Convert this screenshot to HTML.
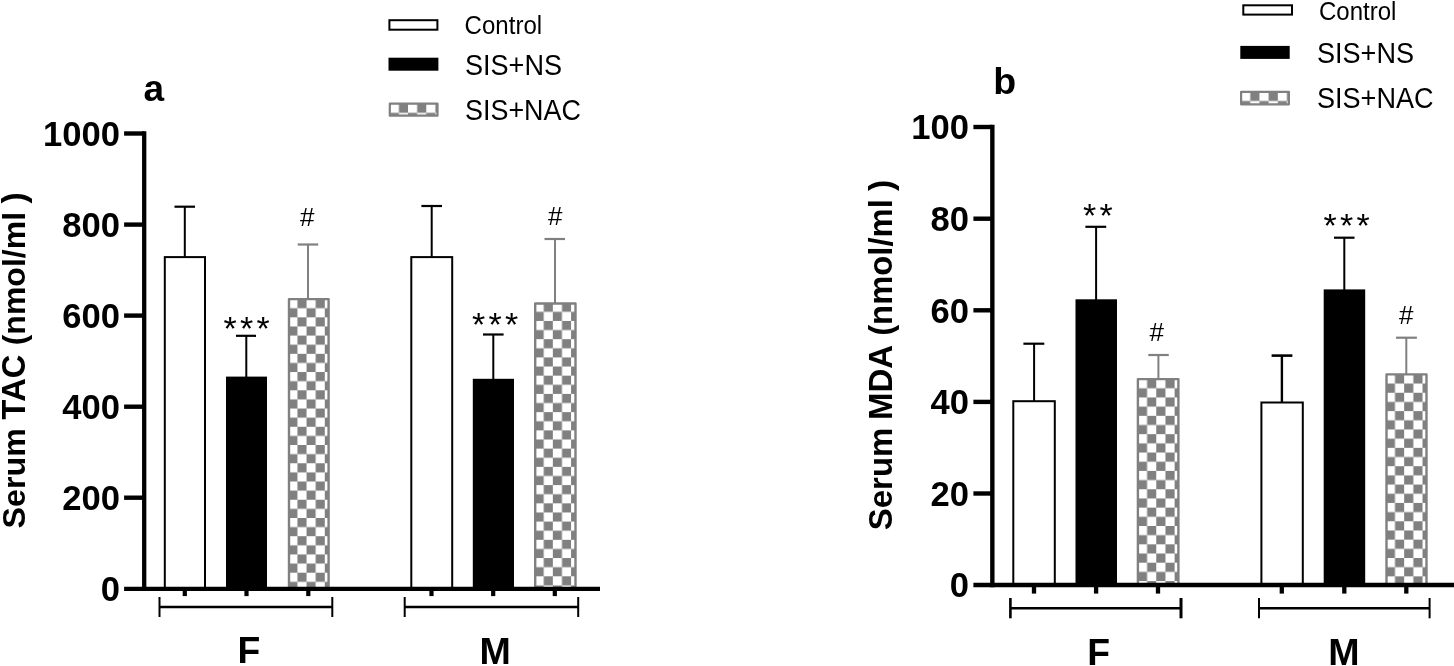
<!DOCTYPE html>
<html><head><meta charset="utf-8"><title>Serum TAC and MDA</title>
<style>html,body{margin:0;padding:0;background:#fff;}body{width:1454px;height:666px;overflow:hidden;}svg{display:block;will-change:transform;font-family:"Liberation Sans",sans-serif;fill:#000;}</style></head><body>
<svg width="1454" height="666" viewBox="0 0 1454 666">
<line x1="184.8" y1="206.7" x2="184.8" y2="257.1" stroke="#000" stroke-width="2.0"/>
<line x1="174.5" y1="206.7" x2="195" y2="206.7" stroke="#000" stroke-width="2.2"/>
<rect x="164.8" y="257.1" width="40.2" height="332.7" fill="#fff" stroke="#000" stroke-width="2.0"/>
<line x1="246.3" y1="335.8" x2="246.3" y2="377.6" stroke="#000" stroke-width="2.0"/>
<line x1="236" y1="335.8" x2="256" y2="335.8" stroke="#000" stroke-width="2.2"/>
<rect x="226" y="376.6" width="41" height="212.2" fill="#000"/>
<line x1="308" y1="244.5" x2="308" y2="298.9" stroke="#808080" stroke-width="2.0"/>
<line x1="297.7" y1="244.5" x2="318.2" y2="244.5" stroke="#808080" stroke-width="2.2"/>
<pattern id="p1" x="288.3" y="299.1" width="18.24" height="18.24" patternUnits="userSpaceOnUse"><rect width="18.24" height="18.24" fill="#fff"/><rect x="9.12" y="0" width="9.12" height="9.12" fill="#808080"/><rect x="0" y="9.12" width="9.12" height="9.12" fill="#808080"/></pattern>
<rect x="289" y="299.1" width="39.6" height="290.5" fill="url(#p1)" stroke="#808080" stroke-width="2.4" stroke-linejoin="round"/>
<line x1="431.7" y1="206" x2="431.7" y2="257.1" stroke="#000" stroke-width="2.0"/>
<line x1="421.4" y1="206" x2="442" y2="206" stroke="#000" stroke-width="2.2"/>
<rect x="411.3" y="257.1" width="40.9" height="332.7" fill="#fff" stroke="#000" stroke-width="2.0"/>
<line x1="493.3" y1="334.5" x2="493.3" y2="379.8" stroke="#000" stroke-width="2.0"/>
<line x1="483" y1="334.5" x2="503.6" y2="334.5" stroke="#000" stroke-width="2.2"/>
<rect x="472.8" y="378.8" width="41.2" height="210" fill="#000"/>
<line x1="555" y1="239" x2="555" y2="303.3" stroke="#808080" stroke-width="2.0"/>
<line x1="544.5" y1="239" x2="565" y2="239" stroke="#808080" stroke-width="2.2"/>
<pattern id="p2" x="534.6" y="302.7" width="18.24" height="18.24" patternUnits="userSpaceOnUse"><rect width="18.24" height="18.24" fill="#fff"/><rect x="9.12" y="0" width="9.12" height="9.12" fill="#808080"/><rect x="0" y="9.12" width="9.12" height="9.12" fill="#808080"/></pattern>
<rect x="535.2" y="303.5" width="40.3" height="286.1" fill="url(#p2)" stroke="#808080" stroke-width="2.4" stroke-linejoin="round"/>
<line x1="144.2" y1="131.3" x2="144.2" y2="590.95" stroke="#000" stroke-width="4.3"/>
<line x1="124.1" y1="588.8" x2="600" y2="588.8" stroke="#000" stroke-width="4.2"/>
<line x1="124.1" y1="133.5" x2="144.2" y2="133.5" stroke="#000" stroke-width="4.4"/>
<text x="119.9" y="145.8" font-size="34.6" font-weight="bold" text-anchor="end">1000</text>
<line x1="124.1" y1="224.6" x2="144.2" y2="224.6" stroke="#000" stroke-width="4.4"/>
<text x="119.9" y="236.9" font-size="34.6" font-weight="bold" text-anchor="end">800</text>
<line x1="124.1" y1="315.6" x2="144.2" y2="315.6" stroke="#000" stroke-width="4.4"/>
<text x="119.9" y="327.9" font-size="34.6" font-weight="bold" text-anchor="end">600</text>
<line x1="124.1" y1="406.7" x2="144.2" y2="406.7" stroke="#000" stroke-width="4.4"/>
<text x="119.9" y="419" font-size="34.6" font-weight="bold" text-anchor="end">400</text>
<line x1="124.1" y1="497.7" x2="144.2" y2="497.7" stroke="#000" stroke-width="4.4"/>
<text x="119.9" y="510" font-size="34.6" font-weight="bold" text-anchor="end">200</text>
<text x="119.9" y="601.1" font-size="34.6" font-weight="bold" text-anchor="end">0</text>
<line x1="184.8" y1="588.8" x2="184.8" y2="596.1" stroke="#000" stroke-width="4.2"/>
<line x1="246.5" y1="588.8" x2="246.5" y2="596.1" stroke="#000" stroke-width="4.2"/>
<line x1="308.3" y1="588.8" x2="308.3" y2="596.1" stroke="#000" stroke-width="4.2"/>
<line x1="431.5" y1="588.8" x2="431.5" y2="596.1" stroke="#000" stroke-width="4.2"/>
<line x1="493.2" y1="588.8" x2="493.2" y2="596.1" stroke="#000" stroke-width="4.2"/>
<line x1="554.8" y1="588.8" x2="554.8" y2="596.1" stroke="#000" stroke-width="4.2"/>
<line x1="159.5" y1="607" x2="332.3" y2="607" stroke="#000" stroke-width="2.3"/>
<line x1="159.5" y1="597" x2="159.5" y2="617" stroke="#000" stroke-width="2"/>
<line x1="332.3" y1="597" x2="332.3" y2="617" stroke="#000" stroke-width="2"/>
<line x1="404.7" y1="607" x2="578.2" y2="607" stroke="#000" stroke-width="2.3"/>
<line x1="404.7" y1="597" x2="404.7" y2="617" stroke="#000" stroke-width="2"/>
<line x1="578.2" y1="597" x2="578.2" y2="617" stroke="#000" stroke-width="2"/>
<text x="143.6" y="101" font-size="37" font-weight="bold" text-anchor="start">a</text>
<text x="249" y="663" font-size="37.3" font-weight="bold" text-anchor="middle">F</text>
<text x="495.2" y="664" font-size="37.6" font-weight="bold" text-anchor="middle">M</text>
<text x="223.5" y="340" font-size="34" text-anchor="start" letter-spacing="3.3">***</text>
<text x="472" y="336" font-size="34" text-anchor="start" letter-spacing="3.3">***</text>
<text x="300" y="226.2" font-size="26" text-anchor="start">#</text>
<text x="548" y="225.3" font-size="26" text-anchor="start">#</text>
<text transform="translate(25.2,528.4) rotate(-90)" font-size="32.2" font-weight="bold">Serum</text>
<text transform="translate(25.2,419.4) rotate(-90)" font-size="32.7" font-weight="bold">TAC</text>
<text transform="translate(25.2,345.3) rotate(-90)" font-size="32" font-weight="bold">(nmol/ml</text>
<text transform="translate(25.2,203.4) rotate(-90)" font-size="34" font-weight="bold">)</text>
<rect x="389.4" y="20.2" width="48" height="9.5" fill="#fff" stroke="#000" stroke-width="2.0"/>
<text transform="translate(464.6,33.9) scale(0.925,1)" font-size="26">Control</text>
<rect x="388.5" y="57.7" width="49.9" height="13" fill="#000"/>
<text transform="translate(465,74.9) scale(0.918,1)" font-size="29.5">SIS+NS</text>
<pattern id="p3" x="389.8" y="103.7" width="18.24" height="18.24" patternUnits="userSpaceOnUse"><rect width="18.24" height="18.24" fill="#fff"/><rect x="9.12" y="0" width="9.12" height="9.12" fill="#808080"/><rect x="0" y="9.12" width="9.12" height="9.12" fill="#808080"/></pattern>
<rect x="389.8" y="103.7" width="47.7" height="12" fill="url(#p3)" stroke="#808080" stroke-width="2.2" stroke-linejoin="round"/>
<text transform="translate(465,120.4) scale(0.913,1)" font-size="29.5">SIS+NAC</text>
<line x1="1034.1" y1="343.7" x2="1034.1" y2="401.2" stroke="#000" stroke-width="2.0"/>
<line x1="1023.4" y1="343.7" x2="1044.3" y2="343.7" stroke="#000" stroke-width="2.2"/>
<rect x="1013.3" y="401.2" width="41.5" height="184.8" fill="#fff" stroke="#000" stroke-width="2.0"/>
<line x1="1096.1" y1="226.8" x2="1096.1" y2="300.3" stroke="#000" stroke-width="2.0"/>
<line x1="1085.4" y1="226.8" x2="1106.2" y2="226.8" stroke="#000" stroke-width="2.2"/>
<rect x="1075.5" y="299.3" width="41.5" height="285.7" fill="#000"/>
<line x1="1158.4" y1="355" x2="1158.4" y2="378.9" stroke="#808080" stroke-width="2.0"/>
<line x1="1148.3" y1="355" x2="1168.8" y2="355" stroke="#808080" stroke-width="2.2"/>
<pattern id="p4" x="1137.9" y="379.1" width="18.36" height="18.36" patternUnits="userSpaceOnUse"><rect width="18.36" height="18.36" fill="#fff"/><rect x="9.18" y="0" width="9.18" height="9.18" fill="#808080"/><rect x="0" y="9.18" width="9.18" height="9.18" fill="#808080"/></pattern>
<rect x="1137.9" y="379.1" width="40.5" height="206.7" fill="url(#p4)" stroke="#808080" stroke-width="2.4" stroke-linejoin="round"/>
<line x1="1281.9" y1="355.6" x2="1281.9" y2="402.5" stroke="#000" stroke-width="2.4"/>
<line x1="1271.6" y1="355.6" x2="1292.4" y2="355.6" stroke="#000" stroke-width="2.6"/>
<rect x="1261.4" y="402.5" width="41.4" height="183.5" fill="#fff" stroke="#000" stroke-width="2.0"/>
<line x1="1344.3" y1="237.7" x2="1344.3" y2="290.4" stroke="#000" stroke-width="2.0"/>
<line x1="1334" y1="237.7" x2="1354.5" y2="237.7" stroke="#000" stroke-width="2.2"/>
<rect x="1323.7" y="289.4" width="41.5" height="295.6" fill="#000"/>
<line x1="1406.3" y1="337.7" x2="1406.3" y2="374.2" stroke="#808080" stroke-width="2.0"/>
<line x1="1396" y1="337.7" x2="1416.9" y2="337.7" stroke="#808080" stroke-width="2.2"/>
<pattern id="p5" x="1385.8" y="374.4" width="18.36" height="18.36" patternUnits="userSpaceOnUse"><rect width="18.36" height="18.36" fill="#fff"/><rect x="9.18" y="0" width="9.18" height="9.18" fill="#808080"/><rect x="0" y="9.18" width="9.18" height="9.18" fill="#808080"/></pattern>
<rect x="1386.5" y="374.4" width="40" height="211.4" fill="url(#p5)" stroke="#808080" stroke-width="2.4" stroke-linejoin="round"/>
<line x1="992.35" y1="124.8" x2="992.35" y2="587.2" stroke="#000" stroke-width="4.4"/>
<line x1="973.4" y1="585" x2="1454" y2="585" stroke="#000" stroke-width="4.3"/>
<line x1="973.4" y1="127" x2="992.35" y2="127" stroke="#000" stroke-width="4.4"/>
<text x="968.9" y="139.3" font-size="34.6" font-weight="bold" text-anchor="end">100</text>
<line x1="973.4" y1="218.7" x2="992.35" y2="218.7" stroke="#000" stroke-width="4.4"/>
<text x="968.9" y="231" font-size="34.6" font-weight="bold" text-anchor="end">80</text>
<line x1="973.4" y1="310.3" x2="992.35" y2="310.3" stroke="#000" stroke-width="4.4"/>
<text x="968.9" y="322.6" font-size="34.6" font-weight="bold" text-anchor="end">60</text>
<line x1="973.4" y1="401.9" x2="992.35" y2="401.9" stroke="#000" stroke-width="4.4"/>
<text x="968.9" y="414.2" font-size="34.6" font-weight="bold" text-anchor="end">40</text>
<line x1="973.4" y1="493.5" x2="992.35" y2="493.5" stroke="#000" stroke-width="4.4"/>
<text x="968.9" y="505.8" font-size="34.6" font-weight="bold" text-anchor="end">20</text>
<text x="968.9" y="597.3" font-size="34.6" font-weight="bold" text-anchor="end">0</text>
<line x1="1034" y1="585" x2="1034" y2="593.6" stroke="#000" stroke-width="4.3"/>
<line x1="1096.1" y1="585" x2="1096.1" y2="593.6" stroke="#000" stroke-width="4.3"/>
<line x1="1158" y1="585" x2="1158" y2="593.6" stroke="#000" stroke-width="4.3"/>
<line x1="1281.8" y1="585" x2="1281.8" y2="593.6" stroke="#000" stroke-width="4.3"/>
<line x1="1344.3" y1="585" x2="1344.3" y2="593.6" stroke="#000" stroke-width="4.3"/>
<line x1="1406.3" y1="585" x2="1406.3" y2="593.6" stroke="#000" stroke-width="4.3"/>
<line x1="1010.4" y1="608.2" x2="1181" y2="608.2" stroke="#000" stroke-width="2.4"/>
<line x1="1010.4" y1="598" x2="1010.4" y2="618.3" stroke="#000" stroke-width="2.6"/>
<line x1="1181" y1="598" x2="1181" y2="618.3" stroke="#000" stroke-width="3.0"/>
<line x1="1259" y1="608.2" x2="1429.6" y2="608.2" stroke="#000" stroke-width="2.4"/>
<line x1="1259" y1="598" x2="1259" y2="618.3" stroke="#000" stroke-width="2"/>
<line x1="1429.6" y1="598" x2="1429.6" y2="618.3" stroke="#000" stroke-width="2"/>
<text x="993.2" y="94.3" font-size="37.5" font-weight="bold" text-anchor="start">b</text>
<text x="1098.6" y="664.5" font-size="37.3" font-weight="bold" text-anchor="middle">F</text>
<text x="1344" y="665" font-size="37.6" font-weight="bold" text-anchor="middle">M</text>
<text x="1083" y="227" font-size="34" text-anchor="start" letter-spacing="3.3">**</text>
<text x="1323.5" y="237" font-size="34" text-anchor="start" letter-spacing="3.3">***</text>
<text x="1149.6" y="341.1" font-size="26" text-anchor="start">#</text>
<text x="1399" y="324" font-size="26" text-anchor="start">#</text>
<text transform="translate(892.4,530.3) rotate(-90)" font-size="33" font-weight="bold">Serum</text>
<text transform="translate(892.4,420) rotate(-90)" font-size="33" font-weight="bold">MDA</text>
<text transform="translate(892.4,335.8) rotate(-90)" font-size="32.8" font-weight="bold">(nmol/ml</text>
<text transform="translate(892.4,191) rotate(-90)" font-size="34" font-weight="bold">)</text>
<rect x="1243.3" y="5.3" width="48.7" height="9.3" fill="#fff" stroke="#000" stroke-width="2.0"/>
<text transform="translate(1318.9,20) scale(0.925,1)" font-size="26">Control</text>
<rect x="1240.3" y="45.9" width="49.4" height="13" fill="#000"/>
<text transform="translate(1317,62.7) scale(0.918,1)" font-size="29.5">SIS+NS</text>
<pattern id="p6" x="1241.1" y="91.8" width="18.36" height="18.36" patternUnits="userSpaceOnUse"><rect width="18.36" height="18.36" fill="#fff"/><rect x="9.18" y="0" width="9.18" height="9.18" fill="#808080"/><rect x="0" y="9.18" width="9.18" height="9.18" fill="#808080"/></pattern>
<rect x="1241.1" y="91.8" width="47.8" height="12.5" fill="url(#p6)" stroke="#808080" stroke-width="2.2" stroke-linejoin="round"/>
<text transform="translate(1317,108.1) scale(0.918,1)" font-size="29.5">SIS+NAC</text>
</svg></body></html>
